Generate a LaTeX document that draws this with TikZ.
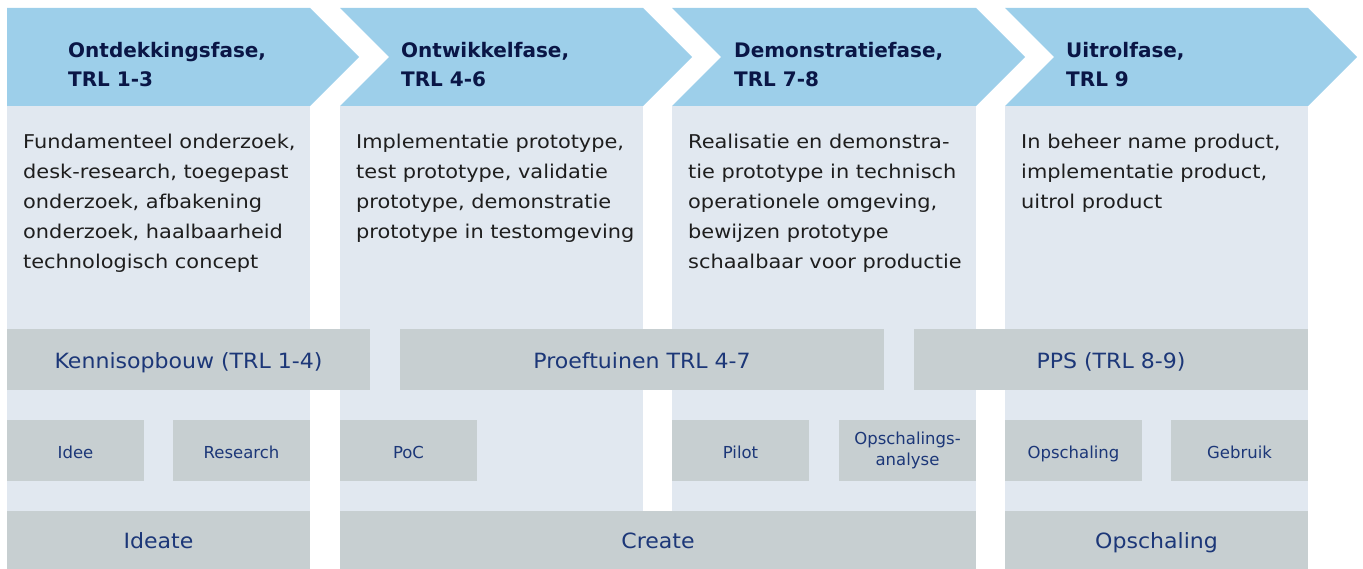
\documentclass[tikz,border=0pt]{standalone}
\usepackage{fontspec}
\setmainfont{DejaVu Sans}
\newfontfamily\bodyf[FakeStretch=1.1]{DejaVu Sans}
\newfontfamily\barf[FakeStretch=1.05]{DejaVu Sans}
\definecolor{hdrblue}{HTML}{9DCFEA}
\definecolor{lightbg}{HTML}{E1E8F0}
\definecolor{barg}{HTML}{C7CFD1}
\definecolor{hdrtxt}{HTML}{0A1646}
\definecolor{bartxt}{HTML}{1C3778}
\definecolor{bodytxt}{HTML}{1E1E1E}
\tikzset{
  hdr/.style={fill=hdrblue, draw=none},
  colbg/.style={fill=lightbg, draw=none},
  hdrtext/.style={anchor=north west, inner sep=0pt, align=left, text=hdrtxt,
    font=\bfseries\fontsize{20}{29}\selectfont},
  bodytext/.style={anchor=north west, inner sep=0pt, align=left, text=bodytxt,
    font=\bodyf\fontsize{19}{30}\selectfont},
  bigbar/.style={fill=barg, draw=none, inner sep=0pt, text=bartxt,
    text height=17pt, text depth=0pt, font=\barf\fontsize{21}{24}\selectfont},
  smallbox/.style={fill=barg, draw=none, inner sep=0pt, text=bartxt,
    minimum width=137pt, minimum height=61pt,
    text height=15pt, text depth=0pt, font=\fontsize{16.5}{21}\selectfont},
  smallbox2/.style={fill=barg, draw=none, inner sep=0pt, text=bartxt, align=center,
    minimum width=137pt, minimum height=61pt, font=\fontsize{16.5}{21}\selectfont},
}
\begin{document}
\begin{tikzpicture}[x=1pt,y=-1pt]
\useasboundingbox (0,0) rectangle (1363,569);
% column backgrounds
\fill[colbg] (7,106) rectangle (310,569);
\fill[colbg] (340,106) rectangle (643,569);
\fill[colbg] (672,106) rectangle (976,569);
\fill[colbg] (1005,106) rectangle (1308,569);
% header chevrons
\fill[hdr] (7,8) -- (310,8) -- (359,57) -- (310,106) -- (7,106) -- cycle;
\fill[hdr] (340,8) -- (643,8) -- (692,57) -- (643,106) -- (340,106) -- (389,57) -- cycle;
\fill[hdr] (672,8) -- (976,8) -- (1025,57) -- (976,106) -- (672,106) -- (721,57) -- cycle;
\fill[hdr] (1005,8) -- (1308,8) -- (1357,57) -- (1308,106) -- (1005,106) -- (1054,57) -- cycle;
% header texts
\node[hdrtext] (h1) at (68,37) {\strut Ontdekkingsfase,\\TRL 1-3};
\node[hdrtext] (h2) at (401,37) {\strut Ontwikkelfase,\\TRL 4-6};
\node[hdrtext] (h3) at (734,37) {\strut Demonstratiefase,\\TRL 7-8};
\node[hdrtext] (h4) at (1066,37) {\strut Uitrolfase,\\TRL 9};
% body texts
\node[bodytext] (b1) at (23,127) {\strut Fundamenteel onderzoek,\\desk-research, toegepast\\onderzoek, afbakening\\onderzoek, haalbaarheid\\technologisch concept};
\node[bodytext] (b2) at (356,127) {\strut Implementatie prototype,\\test prototype, validatie\\prototype, demonstratie\\prototype in testomgeving};
\node[bodytext] (b3) at (688,127) {\strut Realisatie en demonstra-\\tie prototype in technisch\\operationele omgeving,\\bewijzen prototype\\schaalbaar voor productie};
\node[bodytext] (b4) at (1021,127) {\strut In beheer name product,\\implementatie product,\\uitrol product};
% TRL bars
\node[bigbar, minimum width=363pt, minimum height=61pt] (k) at (188.5,359.5) {Kennisopbouw (TRL 1-4)};
\node[bigbar, minimum width=484pt, minimum height=61pt] (p) at (642,359.5) {Proeftuinen TRL 4-7};
\node[bigbar, minimum width=394pt, minimum height=61pt] (pps) at (1111,359.5) {PPS (TRL 8-9)};
% small boxes
\node[smallbox] (idee) at (75.5,450.5) {Idee};
\node[smallbox] (res) at (241.5,450.5) {Research};
\node[smallbox] (poc) at (408.5,450.5) {PoC};
\node[smallbox] (pilot) at (740.5,450.5) {Pilot};
\node[smallbox2] (opa) at (907.5,450.5) {Opschalings-\\analyse};
\node[smallbox] (ops) at (1073.5,450.5) {Opschaling};
\node[smallbox] (geb) at (1239.5,450.5) {Gebruik};
% bottom bars
\node[bigbar, minimum width=303pt, minimum height=58pt] (ideate) at (158.5,540) {Ideate};
\node[bigbar, minimum width=636pt, minimum height=58pt] (create) at (658,540) {Create};
\node[bigbar, minimum width=303pt, minimum height=58pt] (opsch) at (1156.5,540) {Opschaling};
\end{tikzpicture}
\end{document}
